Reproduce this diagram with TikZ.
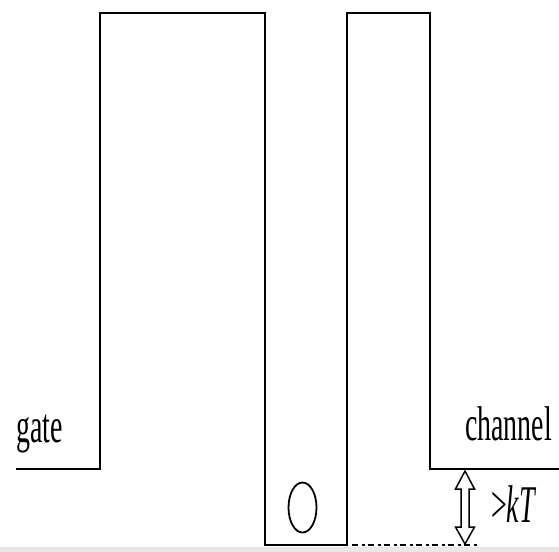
\documentclass[tikz,border=0pt]{standalone}
\usepackage{fontspec}
\setmainfont{Liberation Serif}
\usepackage{graphicx}
\begin{document}
\begin{tikzpicture}[x=1bp,y=-1bp,
  wall/.style={line width=2bp, line join=miter},
  lbl/.style={font=\fontsize{28}{28}\selectfont, inner sep=0pt, anchor=base west},
  dashdot/.style={line width=2.4bp, dash pattern=on 6bp off 4bp on 2.5bp off 3.5bp},
  dblarrow/.style={line width=1.5bp, line join=miter}]
\useasboundingbox (0,0) rectangle (559,552);
\fill[black!9] (0,547) rectangle (559,552);
% profile coordinates
\coordinate (g0) at (16,469);
\coordinate (g1) at (100,469);
\coordinate (b1t) at (100,13);
\coordinate (b1r) at (265,13);
\coordinate (w0) at (265,545);
\coordinate (w1) at (347,545);
\coordinate (b2l) at (347,13);
\coordinate (b2r) at (430,13);
\coordinate (c0) at (430,469);
\coordinate (c1) at (559,469);
\draw[wall] (g0) -- (g1) -- (b1t) -- (b1r) -- (w0) -- (w1) -- (b2l) -- (b2r) -- (c0) -- (c1);
% dash-dot reference level
\coordinate (d1) at (478,545);
\draw[dashdot] (w1) ++(5,0) coordinate (d0) -- (d1);
% electron
\draw[line width=1.8bp] (302.5,507.5) ellipse [x radius=14, y radius=25];
% double arrow
\draw[dblarrow] (465,471) -- (455.5,489) -- (461,489) -- (461,527) -- (455.5,527) -- (465,544)
  -- (474.5,527) -- (469,527) -- (469,489) -- (474.5,489) -- cycle;
% labels
\node[lbl] (gate) at (16,442) {\scalebox{1}[1.75]{gate}};
\node[lbl] (chan) at (465,440) {\scalebox{1}[1.75]{channel}};
\node[lbl] (kt) at (491,522) {\scalebox{1}[1.9]{>\textit{kT}}};
\end{tikzpicture}
\end{document}
